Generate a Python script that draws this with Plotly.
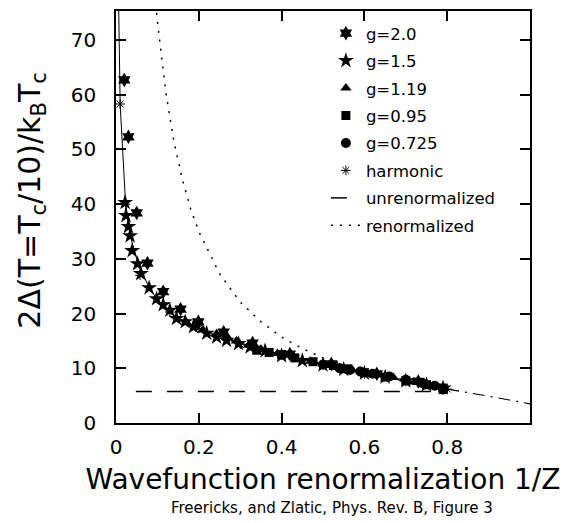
import plotly.graph_objects as go

# ---- data ----
g20_x = [0.020, 0.030, 0.050, 0.076, 0.114, 0.156, 0.199, 0.26, 0.33, 0.42, 0.52, 0.63, 0.73]
g20_y = [62.7, 52.3, 38.4, 29.2, 24.0, 20.8, 18.5, 16.6, 14.6, 12.6, 10.8, 9.0, 7.6]

g15_x = [0.022, 0.024, 0.030, 0.034, 0.039, 0.052, 0.060, 0.080, 0.098, 0.114, 0.130, 0.146,
         0.167, 0.187, 0.219, 0.243, 0.267, 0.296, 0.324, 0.36, 0.40, 0.45, 0.50, 0.55,
         0.60, 0.65, 0.70, 0.75, 0.79]
g15_y = [40.3, 37.9, 35.9, 34.2, 31.5, 29.1, 27.3, 24.7, 22.7, 21.6, 20.6, 19.1,
         18.5, 17.6, 16.4, 15.7, 15.1, 14.5, 13.9, 13.2, 12.3, 11.4, 10.6, 9.8,
         9.1, 8.4, 7.7, 7.0, 6.4]

g119_x = [0.17, 0.21, 0.243, 0.27, 0.291, 0.32, 0.35, 0.39, 0.43, 0.47, 0.52, 0.57, 0.62, 0.67, 0.72, 0.77]
g119_y = [18.4, 17.0, 16.3, 15.6, 15.0, 14.2, 13.5, 12.7, 12.0, 11.3, 10.5, 9.7, 9.0, 8.3, 7.5, 6.8]

g095_x = [0.34, 0.37, 0.40, 0.432, 0.476, 0.525, 0.56, 0.60, 0.65, 0.70, 0.75, 0.79]
g095_y = [13.3, 12.9, 12.5, 11.9, 11.2, 10.5, 9.9, 9.2, 8.4, 7.7, 7.0, 6.4]

g0725_x = [0.50, 0.54, 0.565, 0.59, 0.62, 0.66, 0.70, 0.74, 0.77, 0.79]
g0725_y = [10.7, 10.0, 9.7, 9.4, 9.0, 8.5, 7.9, 7.3, 6.8, 6.1]

harm_x = [0.010, 0.023, 0.058, 0.13, 0.20, 0.30, 0.40, 0.50, 0.60, 0.70, 0.80]
harm_y = [58.3, 40.0, 27.0, 20.3, 17.3, 14.4, 12.4, 10.6, 9.0, 7.6, 6.2]

curve_x = [0.0065, 0.010, 0.023, 0.030, 0.040, 0.050, 0.060, 0.080, 0.100, 0.130, 0.160,
           0.20, 0.25, 0.30, 0.35, 0.40, 0.45, 0.50, 0.55, 0.60, 0.65, 0.70, 0.75, 0.80]
curve_y = [76.0, 58.3, 40.3, 36.0, 32.6, 30.0, 27.9, 24.8, 22.5, 20.3, 18.7,
           17.3, 15.8, 14.6, 13.5, 12.5, 11.6, 10.7, 9.9, 9.1, 8.3, 7.6, 6.9, 6.2]

ext_x = [0.80, 0.85, 0.90, 0.95, 1.00]
ext_y = [6.2, 5.6, 4.9, 4.2, 3.5]

unren_x = [0.048, 0.80]
unren_y = [5.75, 5.75]

ren_x = [0.096, 0.10, 0.12, 0.14, 0.16, 0.18, 0.20, 0.25, 0.30, 0.35, 0.40, 0.45,
         0.50, 0.55, 0.60, 0.65, 0.70, 0.75, 0.80]
ren_y = [76.6, 73.4, 60.6, 51.4, 44.6, 39.2, 35.0, 27.3, 22.1, 18.5, 15.7, 13.6,
         11.9, 10.5, 9.3, 8.3, 7.5, 6.8, 6.1]

x_ticks = [0, 0.2, 0.4, 0.6, 0.8]
x_ticktext = ["0", "0.2", "0.4", "0.6", "0.8"]
y_ticks = [0, 10, 20, 30, 40, 50, 60, 70]

x_title = "Wavefunction renormalization 1/Z"
y_title = "2Δ(T=T<sub>c</sub>/10)/k<sub>B</sub>T<sub>c</sub>"
footer = "Freericks, and Zlatic, Phys. Rev. B, Figure 3"

FONT = "DejaVu Sans"
fig = go.Figure()

# lines (not in legend)
fig.add_trace(go.Scatter(x=curve_x, y=curve_y, mode="lines", line=dict(color="black", width=1),
                         showlegend=False, hoverinfo="skip"))
fig.add_trace(go.Scatter(x=ext_x, y=ext_y, mode="lines",
                         line=dict(color="black", width=1.2, dash="12px,6px,2px,6px"),
                         showlegend=False, hoverinfo="skip"))

def mk(name, xs, ys, symbol, size, group):
    fig.add_trace(go.Scatter(x=xs, y=ys, mode="markers", name=name, legendgroup=group,
                             marker=dict(symbol=symbol, size=size, color="black",
                                         line=dict(width=0, color="black"))))

mk("g=2.0", g20_x, g20_y, "hexagram", 11, "a")
mk("g=1.5", g15_x, g15_y, "star", 12, "b")
mk("g=1.19", g119_x, g119_y, "triangle-up", 10, "c")
mk("g=0.95", g095_x, g095_y, "square", 9, "d")
mk("g=0.725", g0725_x, g0725_y, "circle", 10, "e")
fig.add_trace(go.Scatter(x=harm_x, y=harm_y, mode="markers", name="harmonic", legendgroup="f",
                         marker=dict(symbol="asterisk-open", size=8, color="black",
                                     line=dict(width=1, color="black"))))
fig.add_trace(go.Scatter(x=unren_x, y=unren_y, mode="lines", name="unrenormalized", legendgroup="g",
                         line=dict(color="black", width=1.5, dash="16px,15px")))
fig.add_trace(go.Scatter(x=ren_x, y=ren_y, mode="lines", name="renormalized", legendgroup="h",
                         line=dict(color="black", width=1.5, dash="2px,7px")))

axis_common = dict(showline=True, linecolor="black", linewidth=1.5, mirror="ticks",
                   ticks="inside", ticklen=10, tickwidth=1.5, tickcolor="black",
                   showgrid=False, zeroline=False,
                   tickfont=dict(family=FONT, size=20, color="black"))

fig.update_layout(
    width=569, height=523,
    margin=dict(l=116, r=39, t=9, b=100),
    paper_bgcolor="white", plot_bgcolor="white",
    xaxis=dict(range=[0, 1], tickvals=x_ticks, ticktext=x_ticktext, ticklabelstandoff=5,
               title=dict(text=x_title,
                          font=dict(family=FONT, size=28, color="black"), standoff=12),
               **axis_common),
    yaxis=dict(range=[0, 75.3], tickvals=y_ticks, ticklabelstandoff=14,
               **axis_common),
    legend=dict(x=0.507, y=0.988, xanchor="left", yanchor="top", bgcolor="rgba(0,0,0,0)",
                font=dict(family=FONT, size=16.5, color="black"), traceorder="grouped",
                tracegroupgap=3, borderwidth=0),
    showlegend=True,
    annotations=[
        dict(text=y_title, xref="paper", yref="paper", x=-0.205, y=0.54, textangle=-90,
             xanchor="center", yanchor="middle", showarrow=False,
             font=dict(family=FONT, size=30, color="black")),
        dict(text=footer, xref="paper", yref="paper",
             x=0.522, y=-0.206, xanchor="center", yanchor="middle", showarrow=False,
             font=dict(family=FONT, size=15, color="black")),
    ],
)

fig.write_html("out.html")
